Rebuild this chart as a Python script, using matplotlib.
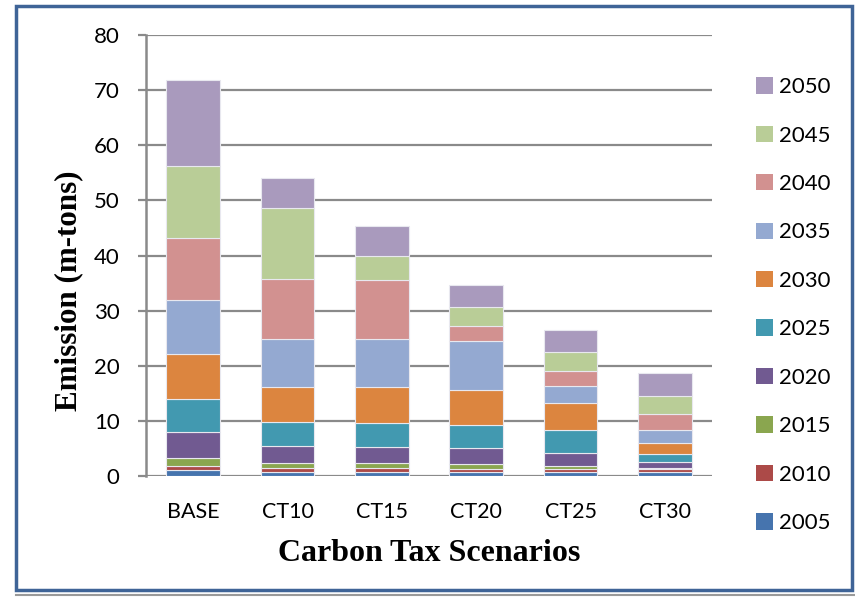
import matplotlib
matplotlib.use("Agg")
import matplotlib.pyplot as plt
import numpy as np
from matplotlib.patches import Rectangle, Patch
from matplotlib.lines import Line2D

scenarios = ["BASE", "CT10", "CT15", "CT20", "CT25", "CT30"]
years = ["2005", "2010", "2015", "2020", "2025", "2030", "2035", "2040", "2045", "2050"]

# Emissions per year (m-tons) for each scenario, stacked bottom to top
e2005 = [1.0, 0.7, 0.7, 0.7, 0.7, 0.7]
e2010 = [0.9, 0.7, 0.7, 0.6, 0.5, 0.5]
e2015 = [1.4, 0.9, 0.9, 0.9, 0.7, 0.3]
e2020 = [4.65, 3.1, 3.05, 2.8, 2.3, 1.1]
e2025 = [6.05, 4.4, 4.3, 4.2, 4.2, 1.4]
e2030 = [8.05, 6.4, 6.45, 6.4, 4.8, 1.95]
e2035 = [9.95, 8.6, 8.7, 8.8, 3.1, 2.45]
e2040 = [11.2, 10.9, 10.7, 2.8, 2.7, 2.8]
e2045 = [13.1, 13.0, 4.4, 3.4, 3.5, 3.4]
e2050 = [15.5, 5.4, 5.5, 4.0, 4.0, 4.1]

series = [e2005, e2010, e2015, e2020, e2025, e2030, e2035, e2040, e2045, e2050]
colors = ["#4674ae", "#ac4a48", "#8aa64f", "#715a91", "#4299b0",
          "#dc853f", "#94a9d1", "#d29190", "#b9cd97", "#a99abd"]

fig = plt.figure(figsize=(8.55, 5.98), dpi=100)
ax = fig.add_axes([146 / 855, 1 - 476 / 598, (712 - 146) / 855, (476 - 35) / 598])

x = np.arange(len(scenarios))
bottom = np.zeros(len(scenarios))
for vals, col, yr in zip(series, colors, years):
    ax.bar(x, vals, width=0.57, bottom=bottom, color=col,
           edgecolor="#e8e8ef", linewidth=0.8, zorder=3, label=yr)
    bottom += np.array(vals)

ax.set_xlim(-0.5, len(scenarios) - 0.5)
ax.set_ylim(0, 80)
ax.set_yticks(np.arange(0, 81, 10))
ax.set_xticks(x)
ax.set_xticklabels(scenarios)

ax.grid(axis="y", color="#8a8a8a", linewidth=1.6, zorder=0)
for side in ["top", "right", "bottom"]:
    ax.spines[side].set_visible(False)
ax.spines["left"].set_color("#8a8a8a")
ax.spines["left"].set_linewidth(1.8)
ax.tick_params(axis="y", length=6, width=1.6, color="#8a8a8a", pad=13,
               labelsize=16)
ax.tick_params(axis="x", length=0, pad=19, labelsize=15.5)
for lbl in ax.get_xticklabels() + ax.get_yticklabels():
    lbl.set_fontfamily("Lato")

ax.set_xlabel("Carbon Tax Scenarios", fontfamily="Liberation Serif",
              fontweight="bold", fontsize=23, labelpad=12)
ax.set_ylabel("Emission (m-tons)", fontfamily="Liberation Serif",
              fontweight="bold", fontsize=22.3)
ax.yaxis.set_label_coords(-0.111, (476 - 291) / 441)

# Legend, newest year on top
handles = [Patch(facecolor=c, edgecolor="none") for c in colors][::-1]
labels = years[::-1]
leg = fig.legend(handles, labels, loc="upper left",
                 bbox_to_anchor=(745 / 855, 1 - 66 / 598),
                 frameon=False, prop={"family": "Lato", "size": 16},
                 handlelength=0.75, handleheight=0.75, handletextpad=0.3,
                 labelspacing=1.28, borderpad=0)

# Outer frame
fig.add_artist(Line2D([16 / 855, 855 / 855], [1 - 595 / 598, 1 - 595 / 598],
                      color="#9a9a9a", linewidth=1.5))
fig.add_artist(Rectangle((16 / 855, 1 - 590 / 598), (852 - 16) / 855,
                         (590 - 6) / 598, fill=False, edgecolor="#3f6497",
                         linewidth=2.5, transform=fig.transFigure))

fig.savefig("out.png", dpi=100)
